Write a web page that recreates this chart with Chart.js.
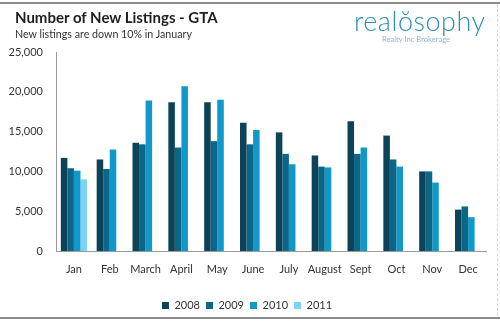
<!DOCTYPE html>
<html>
<head>
<meta charset="utf-8">
<title>Number of New Listings - GTA</title>
<script src="https://cdn.jsdelivr.net/npm/chart.js@4.4.1/dist/chart.umd.min.js"></script>
<style>
  html, body { margin: 0; padding: 0; background: #fff; }
  #wrap { position: relative; width: 500px; height: 321px; overflow: hidden; font-family: Lato, "Open Sans", sans-serif; }
  #chart { position: absolute; left: 0; top: 0; }
  .rule { position: absolute; left: 0; width: 500px; height: 2px; background: #8c8c8c; }
  #edge { position: absolute; right: 2px; top: 4px; height: 312px; border-right: 1px dashed #d4d4d4; }
  #title { position: absolute; left: 15px; top: 8px; font-size: 15px; font-weight: bold; color: #1e1e1e; }
  #subtitle { position: absolute; left: 15px; top: 27px; font-size: 10.7px; color: #333; }
  #logo { position: absolute; left: 354px; top: 4px; font-size: 27px; color: #2c8fb3; letter-spacing: 0.5px; font-weight: 300; }
  #tag { position: absolute; left: 382px; top: 34px; font-size: 7.6px; color: #8db8d6; }
</style>
</head>
<body>
<div id="wrap">
  <canvas id="chart" width="500" height="321"></canvas>
  <div class="rule" style="top:2px"></div>
  <div class="rule" style="top:317px"></div>
  <div id="edge"></div>
  <div id="title">Number of New Listings - GTA</div>
  <div id="subtitle">New listings are down 10% in January</div>
  <div id="logo">realŏsophy</div>
  <div id="tag">Realty Inc Brokerage</div>
</div>
<script>
/* --------------- Data --------------------- */
const months = ["Jan", "Feb", "March", "April", "May", "June", "July", "August", "Sept", "Oct", "Nov", "Dec"];
const listings2008 = [11700, 11500, 13600, 18700, 18700, 16100, 14900, 12000, 16300, 14500, 10000, 5200];
const listings2009 = [10400, 10300, 13400, 13000, 13800, 13400, 12200, 10600, 12200, 11500, 10000, 5600];
const listings2010 = [10100, 12750, 18900, 20700, 19000, 15200, 10900, 10500, 13000, 10600, 8600, 4250];
const listings2011 = [9000, null, null, null, null, null, null, null, null, null, null, null];
const yTicks = [0, 5000, 10000, 15000, 20000, 25000];

/* --------------- Colors --------------------- */
const seriesColors = ["#0d4358", "#0b6687", "#0f99cb", "#7dd3f5"];

const labelFont = { family: "Lato, 'Open Sans', sans-serif", size: 11 };

let chart = new Chart(document.getElementById("chart"), {
  type: "bar",
  data: {
    labels: months,
    datasets: [
      { label: "2008", data: listings2008, backgroundColor: seriesColors[0] },
      { label: "2009", data: listings2009, backgroundColor: seriesColors[1] },
      { label: "2010", data: listings2010, backgroundColor: seriesColors[2] },
      { label: "2011", data: listings2011, backgroundColor: seriesColors[3] },
    ],
  },
  options: {
    responsive: false,
    animation: false,
    layout: { padding: { top: 52, left: 8, right: 14, bottom: 0 } },
    datasets: { bar: { categoryPercentage: 0.73, barPercentage: 1.0 } },
    scales: {
      x: {
        grid: { display: false, drawTicks: false },
        border: { display: true, color: "#9a9a9a", width: 1 },
        ticks: { color: "#333", font: labelFont, padding: 12, maxRotation: 0, autoSkip: false },
        afterFit: (scale) => { scale.height = 43; },
      },
      y: {
        min: 0,
        max: 25000,
        grid: { display: false, drawTicks: false },
        border: { display: true, color: "#9a9a9a", width: 1 },
        afterBuildTicks: (scale) => { scale.ticks = yTicks.map((v) => ({ value: v })); },
        ticks: {
          color: "#333",
          font: labelFont,
          padding: 13,
          callback: (v) => v.toLocaleString("en-US"),
        },
        afterFit: (scale) => { scale.width = 48; },
      },
    },
    plugins: {
      tooltip: { enabled: false },
      legend: {
        position: "bottom",
        labels: { boxWidth: 7, boxHeight: 7, padding: 6, color: "#333", font: labelFont },
      },
    },
  },
});
</script>
</body>
</html>
